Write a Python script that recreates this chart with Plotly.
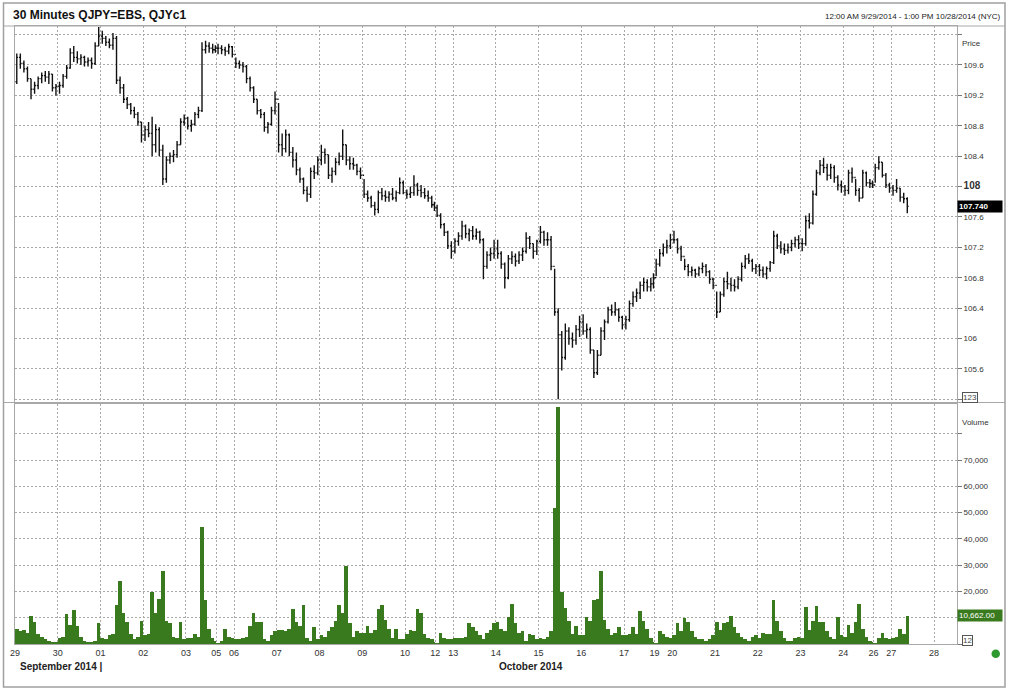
import plotly.graph_objects as go

# ---------------- data ----------------
day_labels = ["29", "30", "01", "02", "03", "05", "06", "07", "08", "09", "10", "12",
              "13", "14", "15", "16", "17", "19", "20", "21", "22", "23", "24", "26", "27", "28"]
# length of each trading session in 30-minute units (Fri closes 17:00, Sun opens 14:00)
day_halfhours = [48, 48, 48, 48, 34, 20, 48, 48, 48, 48, 34, 20,
                 48, 48, 48, 48, 34, 20, 48, 48, 48, 48, 34, 20, 48, 48]
# number of 2-hour bars read for each session
bars_per_day = [12, 12, 12, 12, 9, 5, 12, 12, 12, 12, 9, 5,
                12, 12, 12, 12, 9, 5, 12, 12, 12, 12, 9, 5, 5, 0]

first_open = 109.38

price_high = [
    109.75, 109.75, 109.66, 109.58, 109.42, 109.38, 109.45, 109.50, 109.52, 109.52, 109.48, 109.35,  # 29
    109.38, 109.48, 109.60, 109.82, 109.85, 109.78, 109.74, 109.72, 109.70, 109.70, 109.90, 110.10,  # 30
    110.05, 109.98, 109.95, 110.02, 109.98, 109.45, 109.35, 109.18, 109.10, 109.05, 108.98, 108.85,  # 01
    108.80, 108.85, 108.92, 108.82, 108.78, 108.55, 108.40, 108.45, 108.48, 108.60, 108.90, 108.95,  # 02
    108.92, 108.88, 108.98, 109.05, 109.90, 109.92, 109.90, 109.88, 109.86,  # 03
    109.88, 109.86, 109.84, 109.88, 109.85,  # 05
    109.70, 109.66, 109.64, 109.60, 109.45, 109.32, 109.15, 109.02, 108.98, 108.85, 109.05, 109.25,  # 06
    109.10, 108.70, 108.75, 108.70, 108.52, 108.45, 108.25, 108.12, 108.00, 108.25, 108.28, 108.40,  # 07
    108.55, 108.50, 108.42, 108.25, 108.38, 108.45, 108.75, 108.55, 108.40, 108.38, 108.30, 108.25,  # 08
    108.10, 107.95, 107.88, 107.80, 107.95, 107.98, 107.95, 107.94, 107.98, 107.95, 108.12, 108.08,  # 09
    107.96, 108.00, 108.15, 108.05, 108.02, 107.98, 107.95, 107.88, 107.80,  # 10
    107.76, 107.65, 107.52, 107.42, 107.28,  # 12
    107.32, 107.40, 107.55, 107.50, 107.45, 107.48, 107.45, 107.42, 107.32, 107.15, 107.20, 107.30,  # 13
    107.30, 107.15, 107.00, 107.10, 107.15, 107.12, 107.15, 107.20, 107.40, 107.35, 107.25, 107.30,  # 14
    107.48, 107.42, 107.40, 107.35, 106.92, 106.40, 106.10, 106.20, 106.15, 106.08, 106.18, 106.30,  # 15
    106.32, 106.20, 106.15, 105.85, 105.85, 106.15, 106.25, 106.42, 106.45, 106.48, 106.40, 106.30,  # 16
    106.30, 106.50, 106.62, 106.66, 106.75, 106.80, 106.78, 106.80, 106.86,  # 17
    107.05, 107.18, 107.25, 107.30, 107.38,  # 19
    107.42, 107.32, 107.22, 107.05, 106.98, 106.95, 106.92, 106.95, 107.00, 106.98, 106.90, 106.80,  # 20
    106.62, 106.62, 106.80, 106.88, 106.80, 106.78, 106.82, 107.00, 107.10, 107.12, 107.05, 106.98,  # 21
    106.98, 106.95, 106.95, 107.02, 107.42, 107.38, 107.28, 107.25, 107.25, 107.30, 107.34, 107.36,  # 22
    107.32, 107.62, 107.65, 107.95, 108.22, 108.35, 108.38, 108.30, 108.30, 108.28, 108.15, 108.08,  # 23
    108.02, 108.22, 108.25, 108.10, 107.98, 108.22, 108.20, 108.10, 108.08,  # 24
    108.30, 108.40, 108.32, 108.18, 108.05,  # 26
    108.02, 108.10, 107.98, 107.92, 107.86,  # 27
]

price_low = [
    109.35, 109.55, 109.50, 109.38, 109.15, 109.22, 109.28, 109.36, 109.38, 109.35, 109.25, 109.20,
    109.22, 109.30, 109.42, 109.55, 109.64, 109.62, 109.60, 109.58, 109.58, 109.55, 109.60, 109.85,
    109.88, 109.85, 109.82, 109.80, 109.35, 109.22, 109.10, 109.02, 108.95, 108.90, 108.80, 108.58,
    108.60, 108.65, 108.40, 108.45, 108.40, 108.02, 108.05, 108.30, 108.32, 108.38, 108.55, 108.80,
    108.75, 108.72, 108.80, 108.90, 108.98, 109.75, 109.76, 109.75, 109.76,
    109.74, 109.74, 109.72, 109.74, 109.70,
    109.56, 109.55, 109.50, 109.36, 109.25, 109.10, 108.95, 108.90, 108.72, 108.70, 108.80, 108.95,
    108.45, 108.40, 108.45, 108.40, 108.25, 108.15, 108.05, 107.90, 107.80, 107.85, 108.10, 108.15,
    108.28, 108.30, 108.10, 108.05, 108.15, 108.28, 108.35, 108.28, 108.22, 108.22, 108.15, 108.10,
    107.85, 107.80, 107.72, 107.62, 107.65, 107.82, 107.80, 107.80, 107.82, 107.80, 107.90, 107.90,
    107.84, 107.85, 107.88, 107.88, 107.86, 107.84, 107.80, 107.72, 107.68,
    107.60, 107.45, 107.35, 107.18, 107.05,
    107.12, 107.22, 107.30, 107.32, 107.28, 107.30, 107.30, 107.25, 106.78, 106.92, 107.02, 107.05,
    107.05, 106.92, 106.66, 106.78, 106.98, 106.95, 106.98, 107.02, 107.12, 107.18, 107.05, 107.10,
    107.25, 107.22, 107.22, 106.90, 106.30, 105.20, 105.58, 105.72, 105.92, 105.88, 105.92, 106.02,
    106.05, 106.00, 105.80, 105.48, 105.52, 105.78, 105.98, 106.20, 106.30, 106.30, 106.22, 106.12,
    106.12, 106.22, 106.42, 106.48, 106.52, 106.62, 106.62, 106.62, 106.66,
    106.82, 106.95, 107.08, 107.12, 107.18,
    107.25, 107.12, 107.02, 106.90, 106.82, 106.82, 106.80, 106.82, 106.86, 106.82, 106.72, 106.65,
    106.27, 106.35, 106.55, 106.65, 106.62, 106.62, 106.65, 106.75, 106.92, 106.98, 106.88, 106.85,
    106.82, 106.80, 106.78, 106.88, 106.98, 107.18, 107.12, 107.10, 107.12, 107.15, 107.20, 107.18,
    107.15, 107.22, 107.45, 107.50, 107.88, 108.15, 108.18, 108.08, 108.10, 108.05, 107.95, 107.92,
    107.88, 107.90, 108.05, 107.88, 107.80, 107.85, 108.00, 107.98, 107.98,
    108.05, 108.22, 108.12, 107.98, 107.92,
    107.88, 107.92, 107.80, 107.78, 107.65,
]

price_close = [
    109.70, 109.62, 109.55, 109.42, 109.28, 109.33, 109.42, 109.46, 109.44, 109.48, 109.30, 109.32,
    109.33, 109.45, 109.56, 109.76, 109.70, 109.68, 109.70, 109.64, 109.66, 109.62, 109.85, 109.98,
    109.95, 109.90, 109.86, 109.95, 109.40, 109.30, 109.15, 109.08, 109.00, 108.95, 108.85, 108.68,
    108.75, 108.70, 108.55, 108.75, 108.48, 108.10, 108.35, 108.40, 108.42, 108.55, 108.85, 108.90,
    108.80, 108.82, 108.95, 109.00, 109.80, 109.85, 109.82, 109.80, 109.82,
    109.82, 109.80, 109.78, 109.84, 109.74,
    109.62, 109.60, 109.58, 109.42, 109.30, 109.15, 109.00, 108.95, 108.78, 108.82, 109.00, 109.15,
    108.55, 108.50, 108.68, 108.45, 108.35, 108.22, 108.10, 107.95, 107.90, 108.20, 108.18, 108.35,
    108.45, 108.42, 108.15, 108.20, 108.32, 108.40, 108.55, 108.35, 108.30, 108.28, 108.20, 108.15,
    107.90, 107.85, 107.75, 107.70, 107.92, 107.88, 107.86, 107.90, 107.85, 107.92, 108.05, 107.92,
    107.90, 107.92, 108.02, 107.95, 107.92, 107.88, 107.85, 107.76, 107.72,
    107.62, 107.50, 107.40, 107.22, 107.15,
    107.28, 107.35, 107.48, 107.38, 107.42, 107.35, 107.40, 107.30, 106.95, 107.10, 107.12, 107.18,
    107.12, 106.98, 106.80, 107.05, 107.08, 107.02, 107.10, 107.15, 107.32, 107.25, 107.15, 107.28,
    107.40, 107.30, 107.30, 106.95, 106.35, 106.05, 105.75, 106.10, 106.00, 105.98, 106.12, 106.22,
    106.10, 106.12, 105.85, 105.55, 105.78, 106.10, 106.22, 106.38, 106.35, 106.38, 106.28, 106.18,
    106.25, 106.46, 106.55, 106.60, 106.70, 106.74, 106.68, 106.72, 106.80,
    106.98, 107.12, 107.20, 107.22, 107.30,
    107.30, 107.18, 107.08, 106.95, 106.88, 106.90, 106.85, 106.92, 106.95, 106.88, 106.78, 106.70,
    106.35, 106.58, 106.75, 106.72, 106.70, 106.68, 106.78, 106.95, 107.05, 107.02, 106.92, 106.95,
    106.90, 106.85, 106.92, 107.00, 107.35, 107.22, 107.18, 107.16, 107.20, 107.25, 107.30, 107.25,
    107.25, 107.55, 107.52, 107.90, 108.18, 108.28, 108.25, 108.15, 108.25, 108.12, 108.02, 108.00,
    107.95, 108.18, 108.12, 107.95, 107.85, 108.18, 108.05, 108.04, 108.02,
    108.25, 108.32, 108.15, 108.02, 107.98,
    107.95, 107.98, 107.86, 107.84, 107.74,
]

volume = [
    6000, 5000, 5500, 4500, 11000, 8500, 4000, 3000, 2000, 1500, 1000, 800,  # 29
    2500, 3000, 11500, 7500, 13000, 7000, 3000, 1500, 1000, 800, 1500, 8000,  # 30
    2500, 2000, 3500, 4000, 15000, 24000, 12000, 8500, 4000, 2000, 3000, 9000,  # 01
    3500, 4000, 20000, 12000, 17500, 28000, 9000, 8000, 3000, 2500, 8500, 2000,  # 02
    2500, 2500, 4000, 3000, 44700, 17000, 6000, 2500, 1500,  # 03
    500, 1500, 6000, 3000, 2500,  # 05
    2000, 2000, 2500, 3000, 7000, 12000, 8500, 8500, 2000, 1500, 3500, 5000,  # 06
    5500, 5500, 5000, 6000, 13500, 8500, 7000, 15000, 2500, 1500, 6500, 2000,  # 07
    3500, 3000, 5000, 6500, 9000, 15000, 12000, 30000, 8000, 3000, 5000, 4500,  # 08
    4500, 7000, 4500, 5500, 13500, 15000, 9500, 6000, 2500, 6000, 2000, 2000,  # 09
    4000, 5500, 5000, 13500, 12000, 4000, 2500, 2000, 1000,  # 10
    300, 4500, 2500, 2000, 2000,  # 12
    2500, 2500, 2500, 3000, 8000, 6500, 5000, 3500, 2000, 4500, 5500, 8000,  # 13
    8500, 6000, 5000, 10500, 15500, 8000, 4500, 5000, 1500, 4000, 3500, 2000,  # 14
    2500, 2000, 3000, 5000, 52000, 90500, 20000, 14000, 9000, 4000, 7000, 3500,  # 15
    3500, 10500, 9000, 17000, 17500, 28000, 9500, 6000, 3500, 4500, 6500, 3500,  # 16
    3500, 4000, 6500, 4000, 12800, 9000, 6000, 2500, 1000,  # 17
    300, 5000, 4000, 3000, 2500,  # 19
    3500, 8000, 5000, 10000, 8500, 5000, 3000, 2000, 2000, 1500, 2000, 3500,  # 20
    8500, 5500, 8000, 8500, 11000, 6500, 4500, 3000, 2000, 1500, 3000, 3500,  # 21
    2500, 4500, 4000, 4000, 17000, 9000, 5000, 2500, 1500, 1500, 2500, 3000,  # 22
    2500, 14300, 5500, 9000, 14700, 8500, 8500, 5000, 3000, 2000, 10500, 3500,  # 23
    3000, 7500, 4500, 8500, 15300, 6000, 3000, 1500, 800,  # 24
    300, 2500, 4500, 2500, 2000,  # 26
    2500, 3000, 6000, 4000, 10662,  # 27
]

price_ticks = [105.2, 105.6, 106.0, 106.4, 106.8, 107.2, 107.6, 108.0, 108.4, 108.8, 109.2, 109.6, 110.0]
volume_ticks = [0, 10000, 20000, 30000, 40000, 50000, 60000, 70000, 80000]

# ---------------- positions on a session (gap-free) time axis ----------------
day_start = []
acc = 0
for n in day_halfhours:
    day_start.append(acc)
    acc += n

bar_x, bar_w = [], []
for d, nb in enumerate(bars_per_day):
    for k in range(nb):
        off = 4 * k
        dur = min(4, day_halfhours[d] - off)
        bar_x.append(day_start[d] + off + dur / 2)
        bar_w.append(dur)

price_open = [first_open] + price_close[:-1]

# ---------------- layout geometry ----------------
W, H = 1011, 690
ML, MR, MT, MB = 15, 54, 26, 46
PW, PH = W - ML - MR, H - MT - MB
XMAX = PW / 0.8905


def pxx(px):
    return (px - ML) / PW


def pxy(py):
    return (H - MB - py) / PH


FONT = "Liberation Sans, Arial, sans-serif"
GRID = "#a9a9a9"
GRID_DASH = "2px,2px"
LINE = "#a8a8a8"
GREEN = "#3a7a1f"

fig = go.Figure()

fig.add_trace(go.Ohlc(
    x=bar_x, open=price_open, high=price_high, low=price_low, close=price_close,
    xaxis="x", yaxis="y",
    increasing=dict(line=dict(color="#111111", width=1.4)),
    decreasing=dict(line=dict(color="#111111", width=1.4)),
    tickwidth=0.5, hoverinfo="skip", showlegend=False,
))

fig.add_trace(go.Bar(
    x=bar_x, y=volume, width=bar_w, xaxis="x2", yaxis="y2",
    marker=dict(color=GREEN, line=dict(width=0)), hoverinfo="skip", showlegend=False,
))


def price_label(v):
    if v in (105.2, 110.0):
        return ""
    s = f"{v:g}"
    if abs(v - 108.0) < 1e-9:
        return '<b><span style="font-size:10px">108</span></b>'
    return s


def vol_label(v):
    if v in (0, 10000, 80000):
        return ""
    return f"{v:,}"


common_x = dict(
    range=[0, XMAX], tickvals=day_start, showgrid=True, gridcolor=GRID, griddash=GRID_DASH,
    gridwidth=1, zeroline=False, showline=True, mirror=True, linecolor=LINE, linewidth=1,
    fixedrange=True,
)

fig.update_layout(
    width=W, height=H, paper_bgcolor="white", plot_bgcolor="white",
    margin=dict(l=ML, r=MR, t=MT, b=MB, autoexpand=False),
    font=dict(family=FONT, size=8, color="#333"),
    showlegend=False, bargap=0,
    xaxis=dict(common_x, domain=[0, 1], anchor="y", showticklabels=False,
               rangeslider=dict(visible=False)),
    xaxis2=dict(common_x, domain=[0, 1], anchor="y2", matches="x",
                ticktext=day_labels, showticklabels=True, ticks="",
                tickfont=dict(size=9, color="#333", family=FONT)),
    yaxis=dict(domain=[pxy(401.5), 1], range=[105.172, 110.113], side="right",
               tickvals=price_ticks, ticktext=[price_label(v) for v in price_ticks],
               ticks="outside", ticklen=4, tickcolor="#777", showgrid=True,
               gridcolor=GRID, griddash=GRID_DASH, zeroline=False, showline=True,
               mirror=True, linecolor=LINE, tickfont=dict(size=8, color="#333"),
               fixedrange=True),
    yaxis2=dict(domain=[0, pxy(403.5)], range=[0, 91560], side="right",
                tickvals=volume_ticks, ticktext=[vol_label(v) for v in volume_ticks],
                ticks="outside", ticklen=4, tickcolor="#777", showgrid=True,
                gridcolor=GRID, griddash=GRID_DASH, zeroline=False, showline=True,
                mirror=True, linecolor=LINE, tickfont=dict(size=8, color="#333"),
                fixedrange=True),
)

ann = []
ann.append(dict(text="<b>30 Minutes QJPY=EBS, QJYc1</b>", xref="paper", yref="paper",
                x=pxx(11), y=pxy(15), xanchor="left", yanchor="middle", showarrow=False,
                font=dict(size=12, color="#111", family=FONT)))
ann.append(dict(text="12:00 AM 9/29/2014 - 1:00 PM 10/28/2014 (NYC)", xref="paper", yref="paper",
                x=pxx(1003), y=pxy(16), xanchor="right", yanchor="middle", showarrow=False,
                font=dict(size=8, color="#222", family=FONT)))
ann.append(dict(text="Price", xref="paper", yref="paper", x=pxx(960), y=pxy(44),
                xanchor="left", yanchor="middle", showarrow=False,
                font=dict(size=8, color="#333", family=FONT)))
ann.append(dict(text="Volume", xref="paper", yref="paper", x=pxx(960), y=pxy(422.5),
                xanchor="left", yanchor="middle", showarrow=False,
                font=dict(size=8, color="#333", family=FONT)))
ann.append(dict(text=f"<b>{price_close[-1]:.3f}</b>", xref="paper", yref="y", x=pxx(957),
                y=price_close[-1], xanchor="left", yanchor="middle", showarrow=False,
                bgcolor="#000", font=dict(size=8, color="white", family=FONT),
                width=42, align="left", borderpad=1))
ann.append(dict(text=f"{volume[-1]:,.2f}", xref="paper", yref="y2", x=pxx(957),
                y=volume[-1], xanchor="left", yanchor="middle", showarrow=False,
                bgcolor=GREEN, font=dict(size=8, color="white", family=FONT),
                width=42, align="left", borderpad=1))
ann.append(dict(text="123", xref="paper", yref="paper", x=pxx(962), y=pxy(397.5),
                xanchor="left", yanchor="middle", showarrow=False, bgcolor="white",
                bordercolor="#555", borderwidth=1, borderpad=0,
                font=dict(size=8, color="#444", family=FONT)))
ann.append(dict(text="12", xref="paper", yref="paper", x=pxx(962), y=pxy(640.5),
                xanchor="left", yanchor="middle", showarrow=False, bgcolor="white",
                bordercolor="#555", borderwidth=1, borderpad=0,
                font=dict(size=8, color="#444", family=FONT)))
ann.append(dict(text="<b>September 2014 |</b>", xref="paper", yref="paper", x=pxx(18),
                y=pxy(666.5), xanchor="left", yanchor="middle", showarrow=False,
                font=dict(size=10, color="#222", family=FONT)))
ann.append(dict(text="<b>October 2014</b>", xref="x2", yref="paper", x=day_start[13],
                y=pxy(666.5), xanchor="left", yanchor="middle", showarrow=False, xshift=1,
                font=dict(size=10, color="#222", family=FONT)))
fig.update_layout(annotations=ann)

shapes = []
# outer frame
shapes.append(dict(type="rect", xref="paper", yref="paper", x0=pxx(3.5), x1=pxx(1005),
                   y0=pxy(3), y1=pxy(687), line=dict(color="#a0a0a0", width=1.5)))
# header separator and panel separator across full width
for py in (26, 402.5):
    shapes.append(dict(type="line", xref="paper", yref="paper", x0=pxx(3.5), x1=pxx(1005),
                       y0=pxy(py), y1=pxy(py), line=dict(color=LINE, width=1)))
# status dot
shapes.append(dict(type="circle", xref="paper", yref="paper", x0=pxx(991.5), x1=pxx(1000),
                   y0=pxy(649.5), y1=pxy(658), fillcolor="#2e9a2e", line=dict(width=0)))
fig.update_layout(shapes=shapes)

fig.write_html("out.html", config={"displayModeBar": False},
               post_script="document.body.style.margin='0';document.body.style.overflow='hidden';")
